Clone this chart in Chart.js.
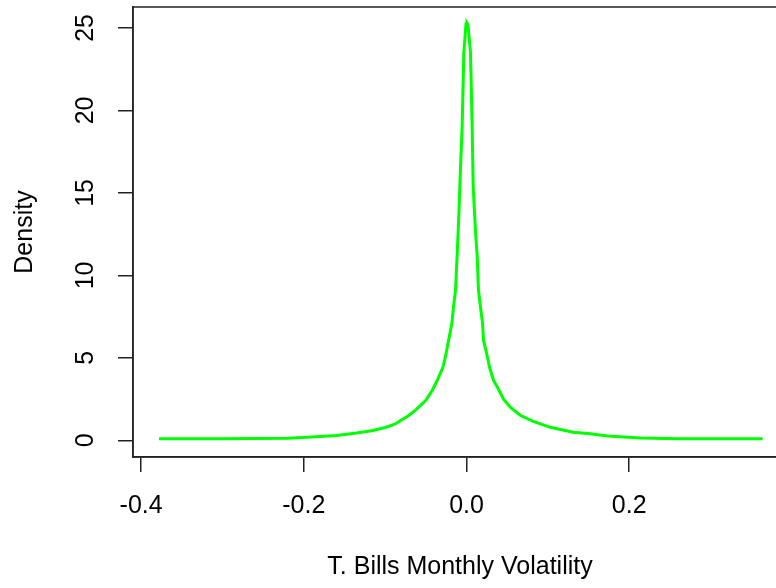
<!DOCTYPE html>
<html lang="en">
<head>
  <meta charset="UTF-8">
  <title>T. Bills Monthly Volatility density</title>
  <script src="https://cdn.jsdelivr.net/npm/chart.js"></script>
  <style>
    html, body { margin: 0; padding: 0; background: #fff; overflow: hidden; }
    #densityChart { display: block; }
  </style>
</head>
<body>
  <canvas id="densityChart" width="800" height="588"></canvas>

  <script>
    // values
    const volatility = [
      -0.378, -0.30, -0.22, -0.19, -0.16, -0.135, -0.115, -0.100, -0.088, -0.081,
      -0.072, -0.063, -0.050, -0.042, -0.036, -0.029, -0.026, -0.022, -0.018, -0.016,
      -0.0135, -0.0114, -0.0095, -0.0074, -0.0053, -0.0033, -0.0006, 0.0006, 0.0018, 0.0049,
      0.0070, 0.0082, 0.0111, 0.0131, 0.0147, 0.0172, 0.0197, 0.0209, 0.0258, 0.0283,
      0.0332, 0.0393, 0.0455, 0.0541, 0.066, 0.082, 0.103, 0.131, 0.152, 0.173,
      0.214, 0.26, 0.364
    ];
    const density = [
      0.10, 0.10, 0.12, 0.20, 0.30, 0.45, 0.60, 0.78, 0.98, 1.20,
      1.48, 1.82, 2.43, 3.04, 3.64, 4.43, 5.04, 6.07, 7.10, 8.08,
      9.11, 11.35, 13.54, 16.5, 19.1, 23.5, 25.26, 25.3, 25.2, 23.5,
      18.9, 15.4, 12.6, 11.2, 9.1, 8.08, 7.10, 6.07, 5.04, 4.43,
      3.64, 3.1, 2.5, 2.0, 1.52, 1.15, 0.79, 0.49, 0.40, 0.27,
      0.14, 0.10, 0.10
    ];
    const xTicks = [-0.4, -0.2, 0, 0.2];
    const xTickLabels = ['-0.4', '-0.2', '0.0', '0.2'];
    const yTicks = [0, 5, 10, 15, 20, 25];

    const font = { family: 'Liberation Sans, Arial, sans-serif', size: 25 };

    // R style box around the plot region
    const boxPlugin = {
      id: 'box',
      afterDraw(chart) {
        const { ctx, chartArea: a } = chart;
        ctx.save();
        ctx.strokeStyle = '#222';
        ctx.lineWidth = 1.5;
        ctx.strokeRect(a.left, a.top, a.right - a.left, a.bottom - a.top);
        ctx.restore();
      }
    };

    new Chart(document.getElementById('densityChart'), {
      type: 'line',
      data: {
        datasets: [{
          data: volatility.map((x, i) => ({ x: x, y: density[i] })),
          borderColor: '#00ff00',
          borderWidth: 3,
          pointRadius: 0,
          tension: 0,
          fill: false
        }]
      },
      options: {
        responsive: false,
        animation: false,
        layout: { padding: { top: 7, right: 13, left: 0, bottom: 0 } },
        plugins: { legend: { display: false }, tooltip: { enabled: false } },
        scales: {
          x: {
            type: 'linear',
            min: -0.410,
            max: 0.394,
            afterBuildTicks: s => { s.ticks = xTicks.map(v => ({ value: v })); },
            afterFit: s => { s.height = 131; s.paddingLeft = 0; s.paddingRight = 0; },
            grid: { drawOnChartArea: false, tickLength: 15, color: '#222', lineWidth: 1.5 },
            border: { color: '#222', width: 1.5 },
            ticks: {
              color: '#000', font: font, padding: 19, maxRotation: 0,
              callback: (v, i) => xTickLabels[i]
            },
            title: {
              display: true, text: 'T. Bills Monthly Volatility',
              color: '#000', font: font, padding: { top: 0, bottom: 6 }
            }
          },
          y: {
            min: -1.01,
            max: 26.27,
            afterBuildTicks: s => { s.ticks = yTicks.map(v => ({ value: v })); },
            afterFit: s => { s.width = 133; s.paddingTop = 0; s.paddingBottom = 0; },
            grid: { drawOnChartArea: false, tickLength: 15, color: '#222', lineWidth: 1.5 },
            border: { color: '#222', width: 1.5 },
            ticks: {
              color: '#000', font: font, padding: 18,
              minRotation: 90, maxRotation: 90, crossAlign: 'center',
              callback: v => String(v)
            },
            title: {
              display: true, text: 'Density',
              color: '#000', font: font, padding: { top: 10, bottom: 0 }
            }
          }
        }
      },
      plugins: [boxPlugin]
    });
  </script>
</body>
</html>
